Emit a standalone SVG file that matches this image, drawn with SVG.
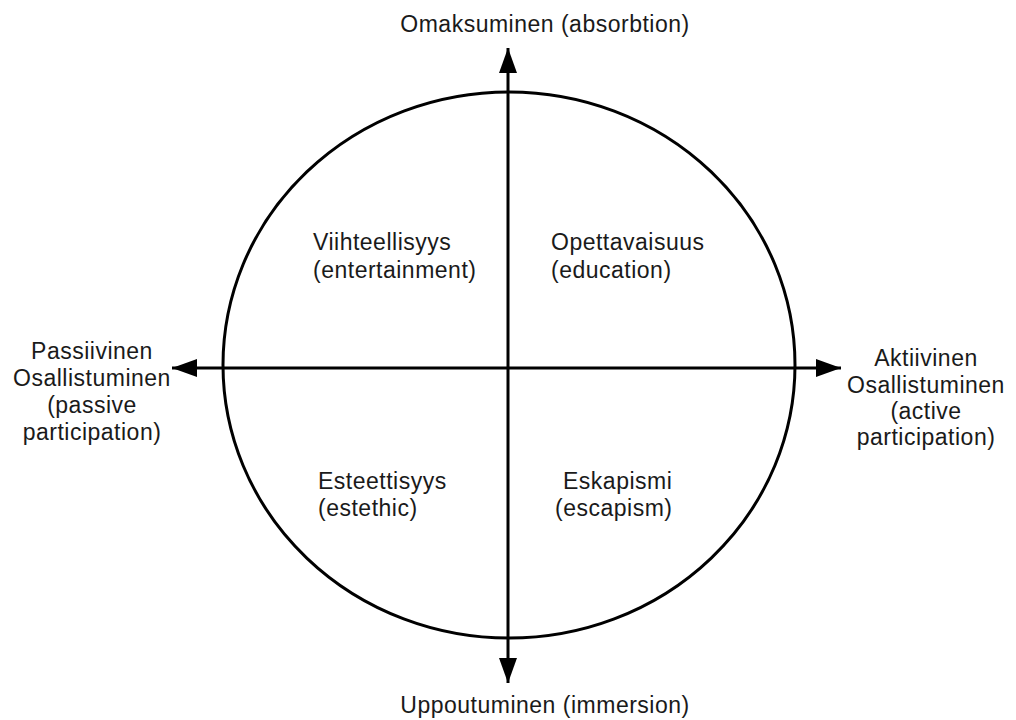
<svg xmlns="http://www.w3.org/2000/svg" width="1016" height="720" viewBox="0 0 1016 720">
<defs>
<marker id="arr" viewBox="0 0 25 18" refX="25" refY="9" markerWidth="25" markerHeight="18" markerUnits="userSpaceOnUse" orient="auto">
<path d="M0,0 L25,9 L0,18 Z" fill="#000"/>
</marker>
<style>
text{font-family:"Liberation Sans",Arial,sans-serif;font-size:23px;letter-spacing:0.5px;fill:#1a1a1a}
.c{text-anchor:middle}
.ax{stroke:#000;stroke-width:3;fill:none}
</style>
</defs>
<rect width="1016" height="720" fill="#fff"/>
<g id="circle"><ellipse cx="509" cy="365" rx="286" ry="273" fill="none" stroke="#000" stroke-width="3"/></g>
<g id="connectors">
<line class="ax" x1="508" y1="368" x2="508" y2="48" marker-end="url(#arr)"/>
<line class="ax" x1="508" y1="368" x2="508" y2="683" marker-end="url(#arr)"/>
<line class="ax" x1="508" y1="368" x2="172" y2="368" marker-end="url(#arr)"/>
<line class="ax" x1="508" y1="368" x2="841" y2="368" marker-end="url(#arr)"/>
</g>
<g id="top"><text class="c" x="545" y="32">Omaksuminen (absorbtion)</text></g>
<g id="bottom"><text class="c" x="545" y="713">Uppoutuminen (immersion)</text></g>
<g id="left"><text class="c" x="92" y="359">Passiivinen</text><text class="c" x="92" y="386">Osallistuminen</text><text class="c" x="92" y="413">(passive</text><text class="c" x="92" y="440">participation)</text></g>
<g id="right"><text class="c" x="926" y="366">Aktiivinen</text><text class="c" x="926" y="393">Osallistuminen</text><text class="c" x="926" y="419">(active</text><text class="c" x="926" y="445">participation)</text></g>
<g id="q1"><text x="313" y="250">Viihteellisyys</text><text x="313" y="278">(entertainment)</text></g>
<g id="q2"><text x="551" y="250">Opettavaisuus</text><text x="551" y="278">(education)</text></g>
<g id="q3"><text x="318" y="489">Esteettisyys</text><text x="318" y="516">(estethic)</text></g>
<g id="q4"><text x="563" y="489">Eskapismi</text><text x="555" y="516">(escapism)</text></g>
</svg>
